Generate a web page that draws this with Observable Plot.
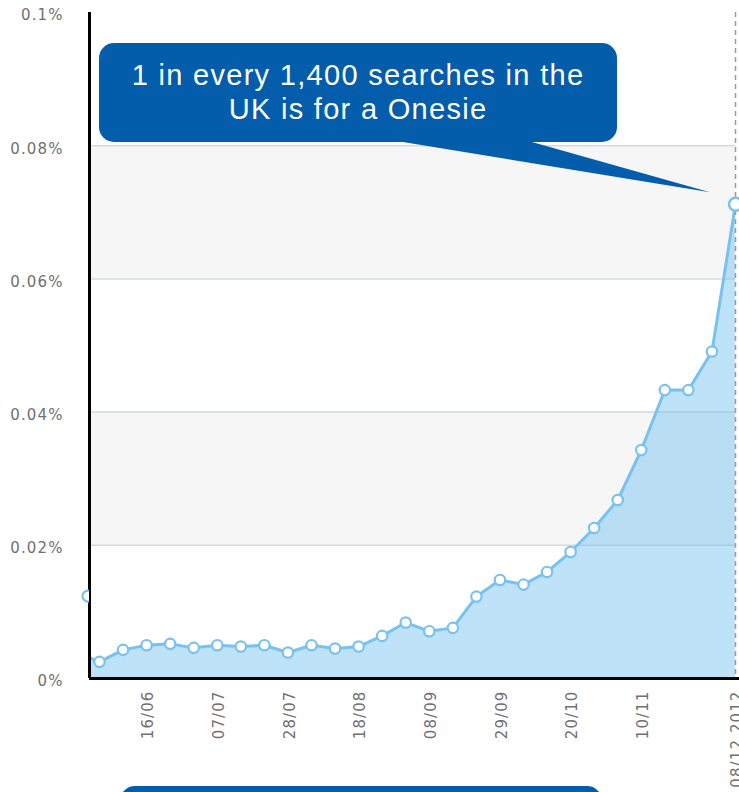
<!DOCTYPE html>
<html>
<head>
<meta charset="utf-8">
<script src="https://cdn.jsdelivr.net/npm/d3@7"></script>
<script src="https://cdn.jsdelivr.net/npm/@observablehq/plot@0.6"></script>
<style>
  html, body { margin: 0; padding: 0; background: #fff; overflow: hidden; }
  #chart svg { display: block; }
</style>
</head>
<body>
<div id="chart"></div>
<script>
// ---- data (weekly share of UK searches for "onesie", in %) ----
const weeks = [
  "2012-05-26","2012-06-02","2012-06-09","2012-06-16","2012-06-23","2012-06-30",
  "2012-07-07","2012-07-14","2012-07-21","2012-07-28","2012-08-04","2012-08-11",
  "2012-08-18","2012-08-25","2012-09-01","2012-09-08","2012-09-15","2012-09-22",
  "2012-09-29","2012-10-06","2012-10-13","2012-10-20","2012-10-27","2012-11-03",
  "2012-11-10","2012-11-17","2012-11-24","2012-12-01","2012-12-08"
];
const searchShare = [
  0.0039, 0.0025, 0.0043, 0.0050, 0.0052, 0.0046,
  0.0050, 0.0048, 0.0050, 0.0039, 0.0050, 0.0045,
  0.0048, 0.0064, 0.0084, 0.0071, 0.0076, 0.0123,
  0.0148, 0.0141, 0.0160, 0.0190, 0.0226, 0.0268,
  0.0343, 0.0433, 0.0433, 0.0491, 0.0712
];
const xTickDates = ["2012-06-16","2012-07-07","2012-07-28","2012-08-18","2012-09-08","2012-09-29","2012-10-20","2012-11-10","2012-12-08"];
const xTickLabels = ["16/06","07/07","28/07","18/08","08/09","29/09","20/10","10/11","08/12 2012"];
const yTicks = [0, 0.02, 0.04, 0.06, 0.08, 0.1];
const yTickLabels = ["0%","0.02%","0.04%","0.06%","0.08%","0.1%"];
const bandLow = [0.02, 0.06];
const bandHigh = [0.04, 0.08];
const gridValues = [0.02, 0.04, 0.06, 0.08];
const edgeMarkerValue = [0.0123];
const calloutLines = ["1 in every 1,400 searches in the", "UK is for a Onesie"];

// ---- derived tables ----
const xDomain = [new Date("2012-05-30T00:40:00Z"), new Date("2012-12-09T04:30:00Z")];
const data = weeks.map((w, i) => ({ date: new Date(w + "T00:00:00Z"), value: searchShare[i] }));
const bands = bandLow.map((lo, i) => ({ lo, hi: bandHigh[i] }));
const lastDate = data[data.length - 1].date;
const xTicks = xTickDates.map(d => new Date(d + "T00:00:00Z"));
const xLabelOf = d => xTickLabels[xTicks.findIndex(t => +t === +d)];
const yLabelOf = d => yTickLabels[yTicks.findIndex(t => Math.abs(t - d) < 1e-9)];

const BLUE = "#035dab";
const LINE = "#79c2ee";

const plot = Plot.plot({
  width: 739,
  height: 792,
  marginLeft: 89,
  marginRight: 0,
  marginTop: 12,
  marginBottom: 114,
  style: { fontFamily: "'DejaVu Sans', sans-serif", fontSize: "15px", color: "#707070", background: "#fff", letterSpacing: "1.1px" },
  x: { type: "utc", domain: xDomain },
  y: { domain: [0, 0.1] },
  marks: [
    Plot.rect(bands, { x1: () => xDomain[0], x2: () => lastDate, y1: "lo", y2: "hi", fill: "#f6f6f6" }),
    Plot.ruleY(gridValues, { x1: () => xDomain[0], x2: () => lastDate, stroke: "#d3d9e2", strokeWidth: 1.5 }),
    Plot.areaY(data, { x: "date", y: "value", fill: "#6fbff0", fillOpacity: 0.45, clip: true }),
    Plot.lineY(data, { x: "date", y: "value", stroke: LINE, strokeWidth: 3, clip: true }),
    Plot.ruleX([lastDate], { stroke: "#9a9a9a", strokeWidth: 1.5, strokeDasharray: "5,4" }),
    Plot.ruleY([0], { stroke: "#000", strokeWidth: 3 }),
    Plot.ruleX([xDomain[0]], { stroke: "#000", strokeWidth: 3 }),
    Plot.dot(data, {
      filter: d => d.date >= xDomain[0] && +d.date !== +lastDate,
      x: "date", y: "value", r: 5.2,
      fill: "#fff", stroke: LINE, strokeWidth: 2.2
    }),
    Plot.dot(data, {
      filter: d => +d.date === +lastDate,
      x: "date", y: "value", r: 6.5,
      fill: "#fff", stroke: LINE, strokeWidth: 2.5
    }),
    Plot.axisY({ ticks: yTicks, tickFormat: yLabelOf, tickSize: 0, tickPadding: 26, dy: 3 }),
    Plot.axisX({ ticks: xTicks, tickFormat: xLabelOf, tickRotate: -90, tickSize: 0, tickPadding: 12, dx: 2 })
  ]
});

document.getElementById("chart").appendChild(plot);

// ---- annotations anchored on the plot's scales ----
const svg = d3.select(plot);
const sx = plot.scale("x"), sy = plot.scale("y");
const last = data[data.length - 1];
const px = sx.apply(last.date), py = sy.apply(last.value);
const x0 = sx.apply(data[1].date);
const frameLeft = sx.apply(xDomain[0]);

// edge marker: only its left half shows, over the y axis line
const defs = svg.append("defs");
defs.append("clipPath").attr("id", "edgeclip")
  .append("rect").attr("x", 0).attr("y", 0).attr("width", frameLeft).attr("height", 792);
svg.append("g").attr("clip-path", "url(#edgeclip)")
  .selectAll("circle").data(edgeMarkerValue).join("circle")
  .attr("cx", frameLeft - 1).attr("cy", d => sy.apply(d)).attr("r", 5.5)
  .attr("fill", "#fff").attr("stroke", LINE).attr("stroke-width", 2.2);

const callout = svg.append("g");
const box = { x1: x0, x2: x0 + 518, y1: 43, y2: 142 };
callout.append("path")
  .attr("d", `M${box.x1 + 304},${box.y2} L${box.x1 + 433},${box.y2} L${px - 25},${py - 11.5} Z`)
  .attr("fill", BLUE);
callout.append("rect")
  .attr("x", box.x1).attr("y", box.y1)
  .attr("width", box.x2 - box.x1).attr("height", box.y2 - box.y1)
  .attr("rx", 15).attr("ry", 15).attr("fill", BLUE);
callout.append("text")
  .attr("x", (box.x1 + box.x2) / 2)
  .attr("text-anchor", "middle")
  .attr("fill", "#fff")
  .style("font-family", "'Liberation Sans', Arial, sans-serif")
  .style("font-size", "29px")
  .style("letter-spacing", "1.3px")
  .selectAll("tspan").data(calloutLines).join("tspan")
  .attr("x", (box.x1 + box.x2) / 2)
  .attr("y", (d, i) => 85 + i * 33.5)
  .text(d => d);

// second callout, cut off by the bottom edge
svg.append("rect")
  .attr("x", x0 + 21).attr("y", 786)
  .attr("width", 482).attr("height", 60)
  .attr("rx", 15).attr("ry", 15).attr("fill", BLUE);
</script>
</body>
</html>
